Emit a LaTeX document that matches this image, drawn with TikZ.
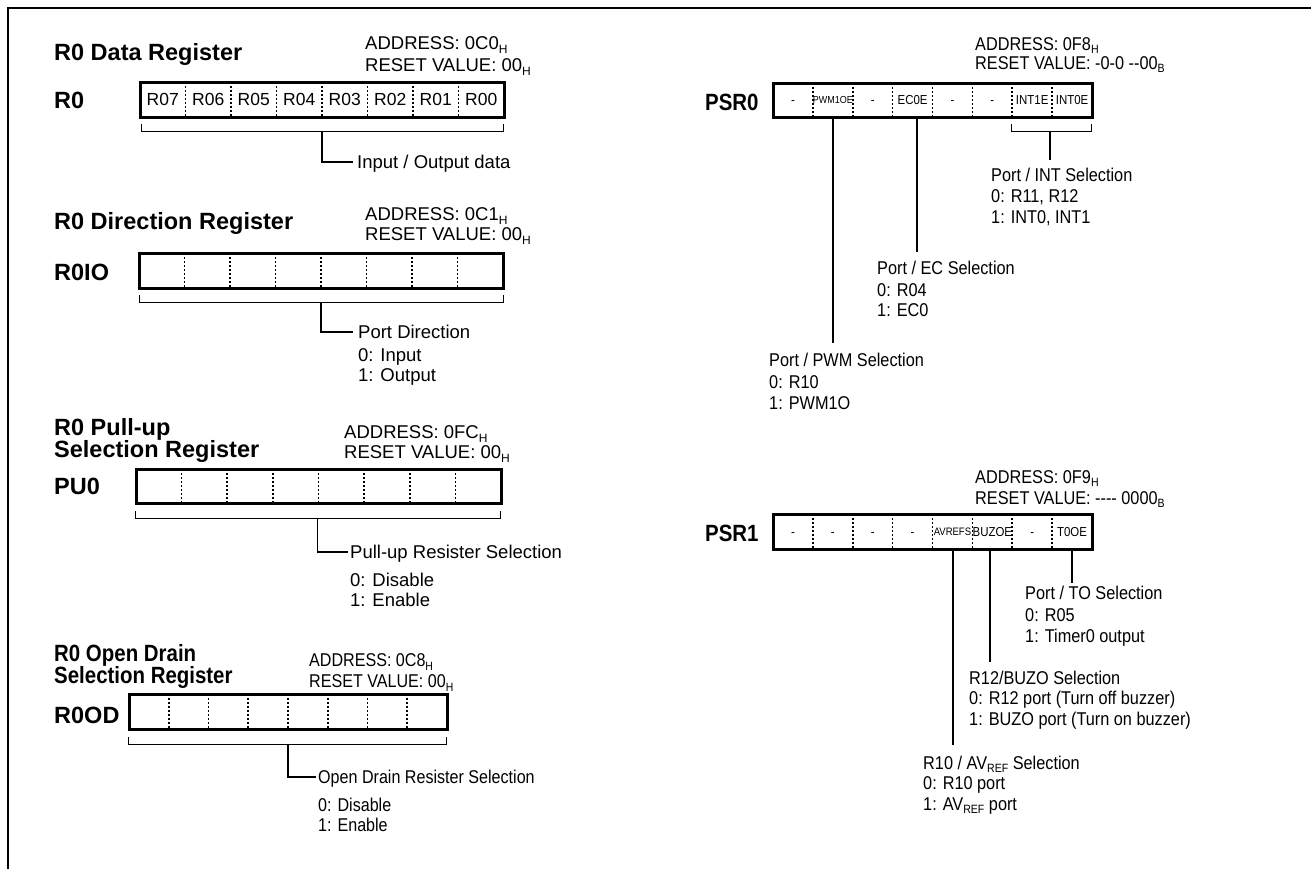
\documentclass[tikz,border=0pt]{standalone}
\usepackage{fontspec}
\setmainfont{Liberation Sans}
\newfontfamily\narrowfont{Liberation Sans}[FakeStretch=0.88]
\newfontfamily\narrowbold{Liberation Sans Bold}[FakeStretch=0.87]
\usetikzlibrary{calc}
\newcommand\fs[1]{\fontsize{#1}{#1}\selectfont}
\newcommand\subx[1]{\raisebox{-0.2em}{\fontsize{12}{12}\selectfont #1}}
\newcommand\subr[1]{\raisebox{-0.16em}{\fontsize{12}{12}\selectfont #1}}
\newcommand\sq[1]{\scalebox{0.87}[1]{#1}}
\newcommand\hy{\mbox{-}}
\begin{document}
\begin{tikzpicture}[x=1pt,y=-1pt,
  title/.style={anchor=west, inner sep=0pt, font=\bfseries\fs{23.5}, text height=16.8pt, text depth=0pt},
  rtitle/.style={anchor=west, inner sep=0pt, font=\narrowbold\fs{23.5}, text height=16.8pt, text depth=0pt},
  body/.style={anchor=west, inner sep=0pt, font=\fs{18.5}, text height=13.2pt, text depth=0pt},
  rbody/.style={anchor=west, inner sep=0pt, font=\narrowfont\fs{18.5}, text height=13.2pt, text depth=0pt},
  regframe/.style={draw, rectangle, line width=3pt, inner sep=0pt, outer sep=0pt},
  divider/.style={line width=1.6pt, dash pattern=on 2pt off 2pt},
  brk/.style={line width=1pt},
  stem/.style={line width=1.1pt},
  cell/.style={inner sep=0pt, font=\fs{17.5}, text height=12.5pt, text depth=0pt},
  rcell/.style={inner sep=0pt, font=\narrowfont\fs{13}, text height=9.3pt, text depth=0pt},
]
\useasboundingbox (0,0) rectangle (1311,868);
% outer frame
\draw[line width=1.5pt] (8,880) -- (8,8) -- (1320,8);

% ================= R0 =================
\node[title] (t0) at (54,52) {R0 Data Register};
\node[title] (l0) at (54,100) {R0};
\node[body] (a0) at (365,43) {ADDRESS: 0C0\subx{H}};
\node[body] (v0) at (365,65) {RESET VALUE: 00\subx{H}};
\node[regframe, minimum width=364pt, minimum height=35pt] (r0) at (322,99.5) {};
\foreach \i in {1,...,7}
  \draw[divider] ($(r0.north west)!\i/8!(r0.north east)$) -- ($(r0.south west)!\i/8!(r0.south east)$);
\foreach \t [count=\i] in {R07,R06,R05,R04,R03,R02,R01,R00}
  \node[cell] (r0c\i) at ($(r0.west)!{(\i-0.5)/8}!(r0.east)$) {\t};
\draw[brk] (141,124) -- (141,131) -- (503,131) -- (503,124);
\coordinate (r0b) at (322,131);
\node[body] (r0t) at (357,162) {Input / Output data};
\draw[stem, shorten >=4pt] (r0b) |- (r0t.west);

% ================= R0IO =================
\node[title] (t1) at (54,221) {R0 Direction Register};
\node[title] (l1) at (54,272) {R0IO};
\node[body] (a1) at (365,214) {ADDRESS: 0C1\subx{H}};
\node[body] (v1) at (365,234) {RESET VALUE: 00\subx{H}};
\node[regframe, minimum width=364pt, minimum height=35pt] (r1) at (321,270.5) {};
\foreach \i in {1,...,7}
  \draw[divider] ($(r1.north west)!\i/8!(r1.north east)$) -- ($(r1.south west)!\i/8!(r1.south east)$);
\draw[brk] (139,295) -- (139,302) -- (503,302) -- (503,295);
\coordinate (r1b) at (321,302);
\node[body] (r1t) at (358,332) {Port Direction};
\node[body] (r1u) at (358,355) {0: Input};
\node[body] (r1v) at (358,375) {1: Output};
\draw[stem, shorten >=5pt] (r1b) |- (r1t.west);

% ================= PU0 =================
\node[title] (t2) at (54,427) {R0 Pull-up};
\node[title] (t2b) at (54,449) {Selection Register};
\node[title] (l2) at (54,486) {PU0};
\node[body] (a2) at (344,432) {ADDRESS: 0FC\subx{H}};
\node[body] (v2) at (344,452) {RESET VALUE: 00\subx{H}};
\node[regframe, minimum width=365pt, minimum height=34pt] (r2) at (318.5,486) {};
\foreach \i in {1,...,7}
  \draw[divider] ($(r2.north west)!\i/8!(r2.north east)$) -- ($(r2.south west)!\i/8!(r2.south east)$);
\draw[brk] (135,511) -- (135,518) -- (500,518) -- (500,511);
\coordinate (r2b) at (317.5,518);
\node[body] (r2t) at (350,552) {Pull-up Resister Selection};
\node[body] (r2u) at (350,580) {0: Disable};
\node[body] (r2v) at (350,600) {1: Enable};
\draw[stem, shorten >=2pt] (r2b) |- (r2t.west);

% ================= R0OD =================
\node[title] (t3) at (54,653) {\sq{R0 Open Drain}};
\node[title] (t3b) at (54,675) {\sq{Selection Register}};
\node[title] (l3) at (54,715) {R0OD};
\node[body] (a3) at (309,660) {\sq{ADDRESS: 0C8\subx{H}}};
\node[body] (v3) at (309,681) {\sq{RESET VALUE: 00\subx{H}}};
\node[regframe, minimum width=318pt, minimum height=35pt] (r3) at (288,711.5) {};
\foreach \i in {1,...,7}
  \draw[divider] ($(r3.north west)!\i/8!(r3.north east)$) -- ($(r3.south west)!\i/8!(r3.south east)$);
\draw[brk] (128,737) -- (128,744) -- (446,744) -- (446,737);
\coordinate (r3b) at (288,744);
\node[body] (r3t) at (318,777) {\sq{Open Drain Resister Selection}};
\node[body] (r3u) at (318,805) {\sq{0: Disable}};
\node[body] (r3v) at (318,825) {\sq{1: Enable}};
\draw[stem, shorten >=2pt] (r3b) |- (r3t.west);

% ================= PSR0 =================
\node[rtitle] (l4) at (705,102) {PSR0};
\node[rbody] (a4) at (975,44) {ADDRESS: 0F8\subr{H}};
\node[rbody] (v4) at (975,63) {RESET VALUE: \hy0\hy0 \hy\hy00\subr{B}};
\node[regframe, minimum width=319pt, minimum height=34pt] (p0) at (932.5,100) {};
\foreach \i in {1,...,7}
  \draw[divider] ($(p0.north west)!\i/8!(p0.north east)$) -- ($(p0.south west)!\i/8!(p0.south east)$);
\foreach \t [count=\i] in {-,{},-,EC0E,-,-,INT1E,INT0E}
  \node[rcell] (p0c\i) at ($(p0.west)!{(\i-0.5)/8}!(p0.east)$) {\t};
\node[rcell, font=\narrowfont\fs{10.2}, text height=7.3pt] (p0pwm) at ($(p0.west)!{1.5/8}!(p0.east)$) {PWM1OE};
% INT bracket
\draw[brk] (1011,124) -- (1011,131) -- (1091,131) -- (1091,124);
\node[rbody] (p0i1) at (991,175) {Port / INT Selection};
\node[rbody] (p0i2) at (991,196) {0: R11, R12};
\node[rbody] (p0i3) at (991,217) {1: INT0, INT1};
\coordinate (p0ib) at (1050,131);
\coordinate (p0ie) at (1050,160);
\draw[stem] (p0ib) -- (p0ie);
% EC
\node[rbody] (p0e1) at (877,268) {Port / EC Selection};
\node[rbody] (p0e2) at (877,290) {0: R04};
\node[rbody] (p0e3) at (877,310) {1: EC0};
\coordinate (p0ee) at (917,252);
\draw[stem] (p0ee |- p0.south) -- (p0ee);
% PWM
\node[rbody] (p0w1) at (769,360) {Port / PWM Selection};
\node[rbody] (p0w2) at (769,382) {0: R10};
\node[rbody] (p0w3) at (769,403) {1: PWM1O};
\coordinate (p0we) at (833,343);
\draw[stem] (p0we |- p0.south) -- (p0we);

% ================= PSR1 =================
\node[rtitle] (l5) at (705,533) {PSR1};
\node[rbody] (a5) at (975,477) {ADDRESS: 0F9\subr{H}};
\node[rbody] (v5) at (975,498) {RESET VALUE: \hy\hy\hy\hy{} 0000\subr{B}};
\node[regframe, minimum width=319pt, minimum height=35pt] (p1) at (932.5,531.5) {};
\foreach \i in {1,...,7}
  \draw[divider] ($(p1.north west)!\i/8!(p1.north east)$) -- ($(p1.south west)!\i/8!(p1.south east)$);
\foreach \t [count=\i] in {-,-,-,-,{},BUZOE,-,T0OE}
  \node[rcell] (p1c\i) at ($(p1.west)!{(\i-0.5)/8}!(p1.east)$) {\t};
\node[rcell, font=\narrowfont\fs{10.8}, text height=7.7pt] (p1av) at ($(p1.west)!{4.5/8}!(p1.east)$) {AVREFS};
% T0
\node[rbody] (p1t1) at (1025,593) {Port / TO Selection};
\node[rbody] (p1t2) at (1025,615) {0: R05};
\node[rbody] (p1t3) at (1025,636) {1: Timer0 output};
\coordinate (p1te) at (1072,583);
\draw[stem] (p1te |- p1.south) -- (p1te);
% BUZO
\node[rbody] (p1b1) at (969,678) {R12/BUZO Selection};
\node[rbody] (p1b2) at (969,698) {0: R12 port (Turn off buzzer)};
\node[rbody] (p1b3) at (969,719) {1: BUZO port (Turn on buzzer)};
\coordinate (p1be) at (990,662);
\draw[stem] (p1be |- p1.south) -- (p1be);
% AVREF
\node[rbody] (p1a1) at (923,763) {R10 / AV\subr{REF} Selection};
\node[rbody] (p1a2) at (923,783) {0: R10 port};
\node[rbody] (p1a3) at (923,804) {1: AV\subr{REF} port};
\coordinate (p1ae) at (953,745);
\draw[stem] (p1ae |- p1.south) -- (p1ae);
\end{tikzpicture}
\end{document}
